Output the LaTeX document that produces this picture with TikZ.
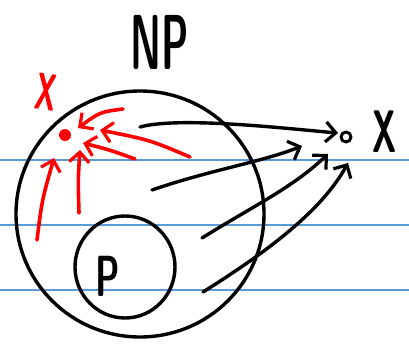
\documentclass[tikz,border=0pt]{standalone}
\usepackage{fontspec}
\usetikzlibrary{arrows.meta}
\definecolor{ruleline}{HTML}{5B9BD5}
\definecolor{reduction}{HTML}{FF0000}

\begin{document}
\begin{tikzpicture}[
  x=1pt,
  y=-1pt,
  line join=round,
  line cap=round,
  ink/.style={draw=black,line width=3.4pt},
  redink/.style={draw=reduction,line width=3.6pt},
  ruled/.style={draw=ruleline,line width=1.1pt},
  tip/.style={-{Straight Barb[length=10pt,width=20pt,line width=3.2pt]}},
  letter/.style={inner sep=0pt,font=\sffamily\bfseries\fontsize{#1}{#1}\selectfont}
]
  \useasboundingbox (0,0) rectangle (409,350);

  % Ruled paper lines.
  \foreach \h in {160,225,290} {
    \draw[ruled] (0,\h) -- (409,\h);
  }

  % Class NP with P inside it.
  \draw[ink] (140,214) ellipse[x radius=124,y radius=123];
  \draw[ink] (125,267) ellipse[x radius=50,y radius=51];
  \node[letter=78] (np) at (160,42) {\scalebox{0.5}[1]{NP}};
  \node[letter=58] (p) at (108,276) {\scalebox{0.6}[1]{P}};

  % Target problem X outside NP.
  \node[circle,draw,line width=3pt,minimum size=10pt,inner sep=0pt] (xpt) at (346,137) {};
  \node[letter=60] (xlab) at (385,132) {\scalebox{0.55}[1]{X}};

  % Hard problem X inside NP, drawn in red.
  \node[circle,fill=reduction,minimum size=12pt,inner sep=0pt] (xred) at (65,135) {};
  \node[letter=52,text=reduction,rotate=-8] (xredlab) at (46,92) {\scalebox{0.55}[1]{X}};

  % Start and end points of the reductions towards X.
  \coordinate (s1) at (140,127);
  \coordinate (s2) at (152,190);
  \coordinate (s3) at (202,238);
  \coordinate (s4) at (203,292);
  \coordinate (e1) at (338,133);
  \coordinate (e2) at (302,146);
  \coordinate (e3) at (328,154);
  \coordinate (e4) at (348,163);

  \draw[ink,tip] (s1) .. controls (180,116) and (290,129) .. (e1);
  \draw[ink,tip] (s2) .. controls (210,170) and (262,162) .. (e2);
  \draw[ink,tip] (s3) .. controls (255,205) and (292,188) .. (e3);
  \draw[ink,tip] (s4) .. controls (270,250) and (322,210) .. (e4);

  % Reductions towards the red X.
  \coordinate (r1) at (123,109);
  \coordinate (r2) at (190,157);
  \coordinate (r3) at (135,159);
  \coordinate (r4) at (79,213);
  \coordinate (r5) at (37,240);
  \coordinate (f1) at (78,128);
  \coordinate (f2) at (100,130);
  \coordinate (f3) at (83,143);
  \coordinate (f4) at (80,150);
  \coordinate (f5) at (54,158);

  \draw[redink,tip] (r1) .. controls (100,112) .. (f1);
  \draw[redink,tip] (r2) .. controls (150,140) .. (f2);
  \draw[redink,tip] (r3) .. controls (110,150) .. (f3);
  \draw[redink,tip] (r4) .. controls (78,180) .. (f4);
  \draw[redink,tip] (r5) .. controls (42,200) .. (f5);
\end{tikzpicture}
\end{document}
